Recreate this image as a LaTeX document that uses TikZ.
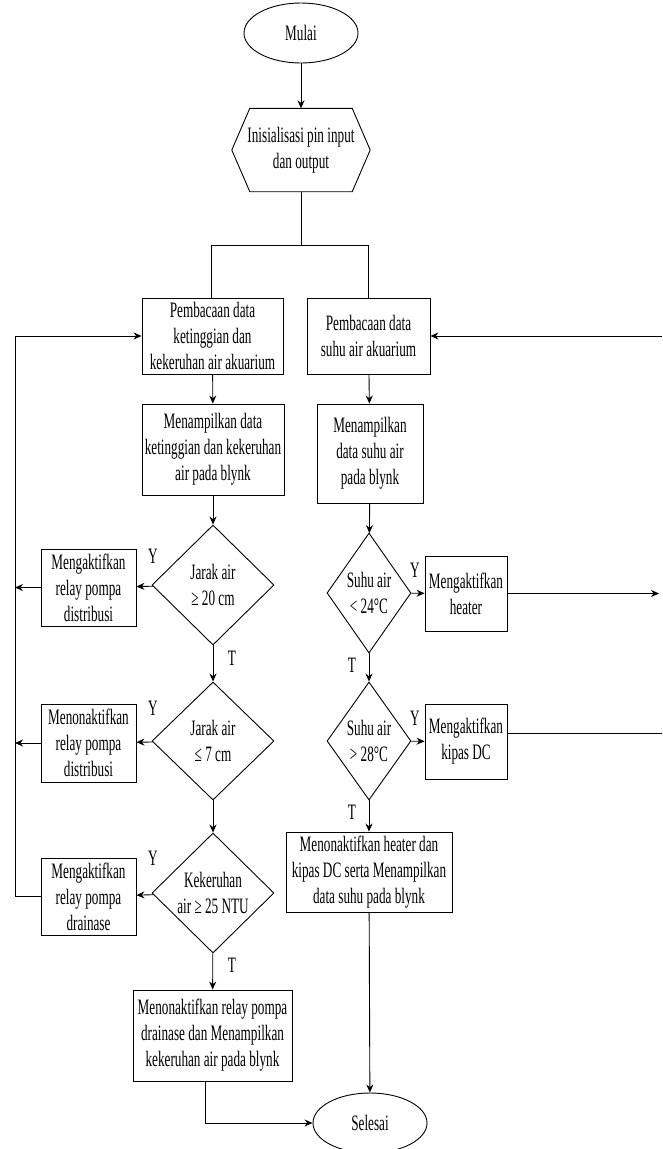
\documentclass[tikz,border=0pt]{standalone}
\usepackage{fontspec}
\setmainfont{Liberation Serif}[FakeStretch=0.6]
\usepackage{tikz}
\usetikzlibrary{shapes,arrows.meta}

\begin{document}
\begin{tikzpicture}[
  x=1pt,y=-1pt,
  font=\fontsize{22}{26}\selectfont,
  every node/.style={align=center,inner sep=0pt},
  startEnd/.style={draw,line width=0.9pt,ellipse,minimum width=114pt,minimum height=60pt},
  prepBox/.style={minimum width=138pt,minimum height=83pt},
  process/.style={draw,line width=0.9pt,rectangle},
  actBox/.style={process,minimum width=95pt,minimum height=77pt},
  tempBox/.style={process,minimum width=82pt,minimum height=75pt},
  decision/.style={draw,line width=0.9pt,diamond,aspect=1,minimum width=122pt,minimum height=120pt},
  decisionS/.style={decision,aspect=0.7,minimum width=84pt},
  flowArrow/.style={->,>={Stealth[length=8pt,width=7pt]},line width=0.9pt,black},
  flowLine/.style={-,line width=0.9pt,black}]

  \useasboundingbox (0,0) rectangle (662,1149);

  % start, end and initialisation
  \node[startEnd] (start) at (301,33) {Mulai};
  \node[startEnd] (finish) at (370,1123) {Selesai};
  \node[prepBox] (init) at (301,150) {Inisialisasi pin input\\dan output};
  \draw[flowLine] ([xshift=18pt]init.north west) -- ([xshift=-18pt]init.north east) -- (init.east)
    -- ([xshift=-18pt]init.south east) -- ([xshift=18pt]init.south west) -- (init.west) -- cycle;

  % water level and turbidity
  \node[process,minimum width=141pt,minimum height=76pt] (readLevel) at (212.5,336) {Pembacaan data\\ketinggian dan\\kekeruhan air akuarium};
  \node[process,minimum width=142pt,minimum height=91pt] (showLevel) at (213,449.5) {Menampilkan data\\ketinggian dan kekeruhan\\air pada blynk};
  \node[decision] (dHigh) at (213,585) {Jarak air\\≥ 20 cm};
  \node[decision,minimum height=118pt] (dLow) at (213,741) {Jarak air\\≤ 7 cm};
  \node[decision] (dTurbid) at (213,893) {Kekeruhan\\air ≥ 25 NTU};
  \node[process,minimum width=159pt,minimum height=91pt] (offDrain) at (212.5,1035.5) {Menonaktifkan relay pompa\\drainase dan Menampilkan\\kekeruhan air pada blynk};
  \node[actBox] (onDist) at (88.5,587.5) {Mengaktifkan\\relay pompa\\distribusi};
  \node[actBox,minimum height=78pt] (offDist) at (88.5,743) {Menonaktifkan\\relay pompa\\distribusi};
  \node[actBox] (onDrain) at (88.5,896.5) {Mengaktifkan\\relay pompa\\drainase};

  % water temperature
  \node[process,minimum width=123pt,minimum height=76pt] (readTemp) at (368.5,336) {Pembacaan data\\suhu air akuarium};
  \node[process,minimum width=106pt,minimum height=99pt] (showTemp) at (370,453.5) {Menampilkan\\data suhu air\\pada blynk};
  \node[decisionS] (dCold) at (369,593) {Suhu air\\< 24°C};
  \node[decisionS,minimum height=118pt] (dHot) at (369,741) {Suhu air\\> 28°C};
  \node[tempBox] (onHeater) at (466,593.5) {Mengaktifkan\\heater};
  \node[tempBox] (onFan) at (466,741.5) {Mengaktifkan\\kipas DC};
  \node[process,minimum width=166pt,minimum height=80pt] (offTemp) at (369,872) {Menonaktifkan heater dan\\kipas DC serta Menampilkan\\data suhu pada blynk};

  % Y / T labels
  \node (yHigh) at (153,556) {Y};
  \node (tHigh) at (232,658) {T};
  \node (yLow) at (153,708) {Y};
  \node (yTurbid) at (153,858) {Y};
  \node (tTurbid) at (232,965) {T};
  \node (yCold) at (415,570) {Y};
  \node (tCold) at (352,665) {T};
  \node (yHot) at (415,718) {Y};
  \node (tHot) at (352,812) {T};

  % loose ends at the border
  \coordinate (loopL) at (15,336);
  \coordinate (loopR) at (662,336);
  \coordinate (heaterOut) at (659,593.5);
  \coordinate (fanOut) at (662,733);

  % main flow
  \draw[flowArrow] (start) -- (init);
  \draw[flowLine] (init.south) -- ++(0,54) -| ([xshift=-1.5pt]readLevel.north);
  \draw[flowLine] (init.south) -- ++(0,54) -| (readTemp.north);

  % left branch
  \draw[flowArrow] (readLevel) -- (showLevel);
  \draw[flowArrow] (showLevel) -- (dHigh);
  \draw[flowArrow] (dHigh) -- (onDist);
  \draw[flowArrow] (dHigh) -- (dLow);
  \draw[flowArrow] (dLow) -- (offDist);
  \draw[flowArrow] (dLow) -- (dTurbid);
  \draw[flowArrow] (dTurbid) -- (onDrain);
  \draw[flowArrow] (dTurbid) -- (offDrain);
  \draw[flowArrow] (onDist.west) -- (onDist.west -| loopL);
  \draw[flowArrow] (offDist.west) -- (offDist.west -| loopL);
  \draw[flowArrow] (onDrain.west) -| (loopL) -- (readLevel.west);
  \draw[flowArrow] ([xshift=-7.5pt]offDrain.south) |- (finish.west);

  % right branch
  \draw[flowArrow] (loopR) -- (readTemp.east);
  \draw[flowArrow] (readTemp) -- (showTemp);
  \draw[flowArrow] (showTemp) -- (dCold);
  \draw[flowArrow] (dCold) -- (onHeater);
  \draw[flowArrow] (onHeater) -- (heaterOut);
  \draw[flowArrow] (dCold) -- (dHot);
  \draw[flowArrow] (dHot) -- (onFan);
  \draw[flowLine] (fanOut -| onFan.east) -- (fanOut);
  \draw[flowArrow] (dHot) -- (offTemp);
  \draw[flowArrow] (offTemp) -- (finish);

\end{tikzpicture}
\end{document}
